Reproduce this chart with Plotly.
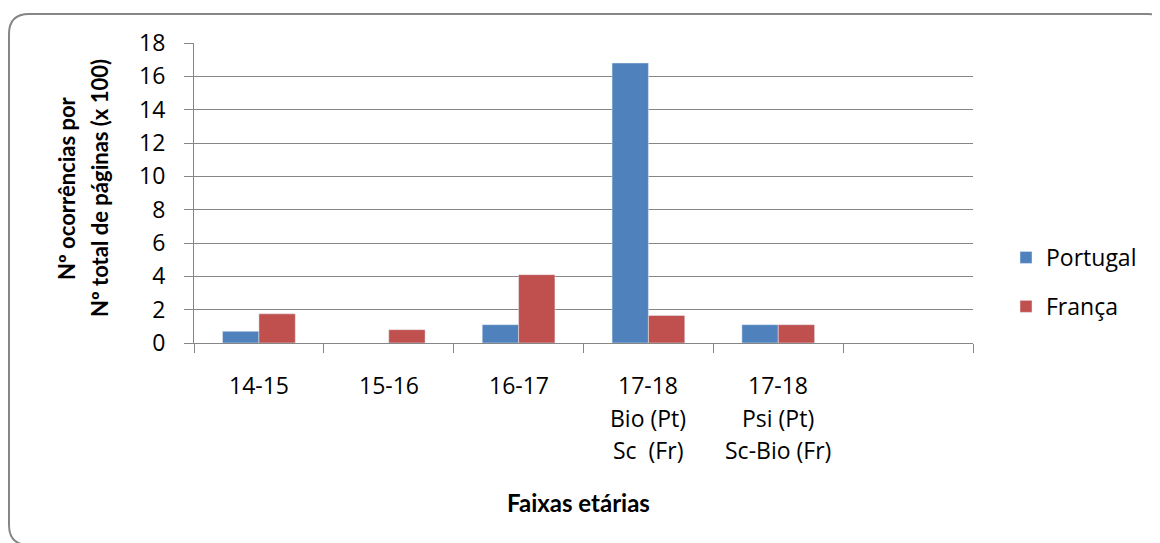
import plotly.graph_objects as go

categories = ["14-15", "15-16", "16-17", "17-18<br>Bio (Pt)<br>Sc  (Fr)",
              "17-18<br>Psi (Pt)<br>Sc-Bio (Fr)", ""]
portugal = [0.7, None, 1.1, 16.8, 1.1, None]
franca = [1.75, 0.8, 4.1, 1.65, 1.1, None]
y_ticks = [0, 2, 4, 6, 8, 10, 12, 14, 16, 18]

# page has an 8px body margin; figure is sized to fit inside the window
OFF = 8
W, H = 1160 - OFF, 543 - OFF
PL, PT, PW, PH = 194, 43, 779, 300          # plot area in page pixels
L, T = PL - OFF, PT - OFF
R, B = W - L - PW, H - T - PH

def px(x):
    return (x - PL) / PW

def py(y):
    return (PT + PH - y) / PH

FONT = "Open Sans"
TFONT = "Lato"
GRID = "#868686"

x_idx = list(range(len(categories)))

fig = go.Figure()
fig.add_trace(go.Bar(x=x_idx, y=portugal, name="Portugal", marker_color="#4F81BD",
                     legendgroup="p"))
fig.add_trace(go.Bar(x=x_idx, y=franca, name="França", marker_color="#C0504D",
                     legendgroup="f"))

annotations = []
for i, cat in enumerate(categories):
    for j, line in enumerate(cat.split("<br>")):
        if not line:
            continue
        annotations.append(dict(x=i, y=0, xref="x", yref="y", text=line, showarrow=False,
                                xanchor="center", yanchor="middle",
                                yshift=-(42 + 32.5 * j),
                                font=dict(family=FONT, size=23, color="#000")))

annotations.append(dict(x=px(67), y=py(188), xref="paper", yref="paper",
                        text="<b>Nº ocorrências por</b>", textangle=-90, showarrow=False,
                        xanchor="center", yanchor="middle",
                        font=dict(family=TFONT, size=22, color="#000")))
annotations.append(dict(x=px(100), y=py(188), xref="paper", yref="paper",
                        text="<b>Nº total de páginas (x 100)</b>", textangle=-90, showarrow=False,
                        xanchor="center", yanchor="middle",
                        font=dict(family=TFONT, size=22, color="#000")))
annotations.append(dict(x=px(578), y=py(503), xref="paper", yref="paper",
                        text="<b>Faixas etárias</b>", showarrow=False,
                        xanchor="center", yanchor="middle",
                        font=dict(family=TFONT, size=24, color="#000")))

# rounded outer border (page pixels -> paper)
x0, x1 = px(9), px(1168)
y0, y1 = py(14), py(545)
rx, ry = 20 / PW, 20 / PH
path = (f"M {x0+rx},{y0} L {x1-rx},{y0} Q {x1},{y0} {x1},{y0-ry} "
        f"L {x1},{y1+ry} Q {x1},{y1} {x1-rx},{y1} L {x0+rx},{y1} "
        f"Q {x0},{y1} {x0},{y1+ry} L {x0},{y0-ry} Q {x0},{y0} {x0+rx},{y0} Z")

fig.update_layout(
    width=W, height=H,
    margin=dict(l=L, r=R, t=T, b=B, pad=0),
    paper_bgcolor="white", plot_bgcolor="white",
    barmode="group", bargap=0.44, bargroupgap=0,
    font=dict(family=FONT, size=23, color="#000"),
    annotations=annotations,
    shapes=[dict(type="path", path=path, xref="paper", yref="paper",
                 line=dict(color="#868686", width=2), layer="below")],
    legend=dict(x=px(1006), y=py(236), xanchor="left", yanchor="top",
                font=dict(family=FONT, size=23, color="#000"),
                tracegroupgap=16, traceorder="grouped", bgcolor="rgba(0,0,0,0)"),
    showlegend=True,
)
fig.update_xaxes(range=[-0.5, len(categories) - 0.5],
                 tickvals=[i - 0.5 for i in range(len(categories) + 1)],
                 showticklabels=False, ticks="outside", ticklen=9, tickcolor=GRID,
                 tickwidth=1, showgrid=False, showline=True, linecolor=GRID, linewidth=1,
                 zeroline=False)
fig.update_yaxes(range=[0, 18], tickvals=y_ticks, ticks="outside", ticklen=9,
                 tickcolor=GRID, tickwidth=1, showgrid=True, gridcolor=GRID, gridwidth=1,
                 showline=True, linecolor=GRID, linewidth=1, zeroline=False,
                 ticklabelstandoff=14, tickfont=dict(family=FONT, size=23, color="#000"))

fig.write_html("out.html")
